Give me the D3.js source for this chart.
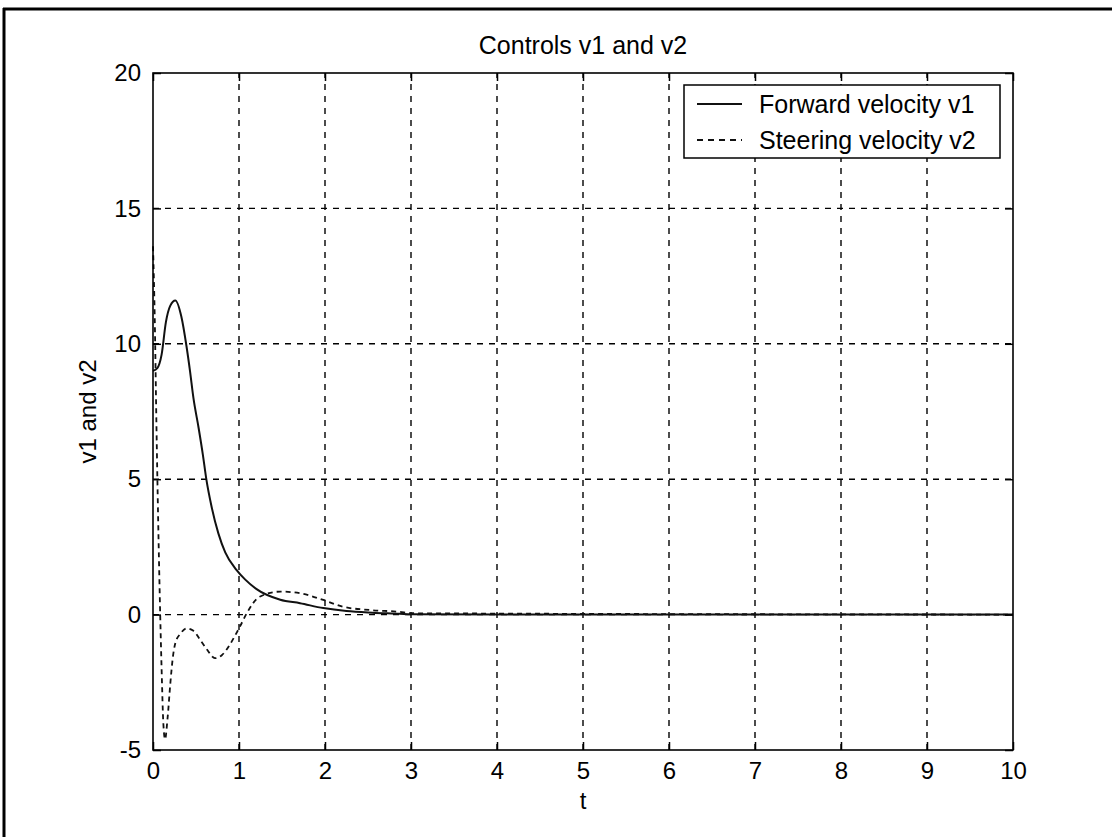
<!DOCTYPE html>
<html>
<head>
<meta charset="utf-8">
<script src="https://cdn.jsdelivr.net/npm/d3@7"></script>
<style>
  html, body { margin: 0; padding: 0; background: #fff; }
  svg { display: block; }
  text { font-family: "Liberation Sans", Arial, sans-serif; fill: #000; }
</style>
</head>
<body>
<svg id="Canvas" width="1112" height="837"></svg>
<script>
// chart data
var titleText = "Controls v1 and v2",
	xLabel = "t",
	yLabel = "v1 and v2",
	seriesNames = ["Forward velocity v1", "Steering velocity v2"],
	xTicks = [0, 1, 2, 3, 4, 5, 6, 7, 8, 9, 10],
	yTicks = [-5, 0, 5, 10, 15, 20];

// forward velocity v1
var tV1 = [0, 0.05, 0.1, 0.15, 0.2, 0.26, 0.33, 0.39, 0.43, 0.47, 0.53, 0.58, 0.62, 0.68, 0.76, 0.84, 0.97, 1.07, 1.2, 1.48, 1.71, 1.98, 2.25, 2.55, 2.87, 3.0, 10],
	v1  = [9.0, 9.1, 9.6, 10.8, 11.4, 11.6, 11.0, 9.9, 9.0, 8.0, 6.9, 5.9, 5.0, 4.0, 3.0, 2.3, 1.65, 1.3, 0.95, 0.55, 0.42, 0.24, 0.13, 0.07, 0.03, 0.01, 0];

// steering velocity v2
var tV2 = [0, 0.02, 0.04, 0.06, 0.08, 0.1, 0.12, 0.14, 0.17, 0.2, 0.23, 0.26, 0.32, 0.39, 0.47, 0.55, 0.63, 0.72, 0.8, 0.88, 0.95, 1.01, 1.09, 1.24, 1.48, 1.71, 1.98, 2.21, 2.52, 2.87, 3.0, 10],
	v2  = [13.6, 11, 7, 3.5, 0.5, -2, -4, -4.6, -3.8, -2.6, -1.6, -1.05, -0.7, -0.51, -0.6, -0.94, -1.3, -1.61, -1.5, -1.18, -0.8, -0.45, 0.05, 0.66, 0.85, 0.79, 0.54, 0.29, 0.17, 0.1, 0.05, 0];

var svg = d3.select("#Canvas"),
	plot = { left: 153, right: 1013, top: 73, bottom: 750 },
	tickLen = 8;

var x = d3.scaleLinear().domain([0, 10]).range([plot.left, plot.right]),
	y = d3.scaleLinear().domain([-5, 20]).range([plot.bottom, plot.top]);

/*
 * outer frame (only top and left edges show)
 */
svg.append("line").attr("x1", 3).attr("x2", 1112).attr("y1", 9).attr("y2", 9)
	.attr("stroke", "#000").attr("stroke-width", 3);
svg.append("line").attr("x1", 4).attr("x2", 4).attr("y1", 8).attr("y2", 837)
	.attr("stroke", "#000").attr("stroke-width", 3);

/*
 * grid
 */
var grid = svg.append("g").attr("stroke", "#000").attr("stroke-width", 1.4).attr("stroke-dasharray", "6,6");
grid.selectAll(".gx").data(xTicks.slice(1, -1)).enter().append("line")
	.attr("x1", function(d){ return x(d); }).attr("x2", function(d){ return x(d); })
	.attr("y1", plot.bottom).attr("y2", plot.top);
grid.selectAll(".gy").data(yTicks.slice(1, -1)).enter().append("line")
	.attr("y1", function(d){ return y(d); }).attr("y2", function(d){ return y(d); })
	.attr("x1", plot.left).attr("x2", plot.right);

/*
 * curves
 */
var line = d3.line()
	.x(function(d){ return x(d[0]); })
	.y(function(d){ return y(d[1]); })
	.curve(d3.curveMonotoneX);

svg.append("path").datum(d3.zip(tV1, v1))
	.attr("d", line).attr("fill", "none").attr("stroke", "#111").attr("stroke-width", 2);
svg.append("path").datum(d3.zip(tV2, v2))
	.attr("d", line).attr("fill", "none").attr("stroke", "#111").attr("stroke-width", 1.8)
	.attr("stroke-dasharray", "5,4");

/*
 * axes: box with inward ticks on all four sides
 */
function plain(d){ return String(d); }

var axBottom = d3.axisBottom(x).tickValues(xTicks).tickFormat(plain).tickSizeInner(-tickLen).tickSizeOuter(0).tickPadding(12),
	axTop = d3.axisTop(x).tickValues(xTicks).tickSizeInner(-tickLen).tickSizeOuter(0).tickFormat(""),
	axLeft = d3.axisLeft(y).tickValues(yTicks).tickFormat(plain).tickSizeInner(-tickLen).tickSizeOuter(0).tickPadding(12),
	axRight = d3.axisRight(y).tickValues(yTicks).tickSizeInner(-tickLen).tickSizeOuter(0).tickFormat("");

function styleAxis(g){
	g.select(".domain").remove();
	g.selectAll("line").attr("stroke", "#000").attr("stroke-width", 1.5);
	g.selectAll("text").attr("font-family", null).attr("font-size", 24).attr("fill", "#000");
}

svg.append("g").attr("transform", "translate(0," + plot.bottom + ")").call(axBottom).call(styleAxis);
svg.append("g").attr("transform", "translate(0," + plot.top + ")").call(axTop).call(styleAxis);
svg.append("g").attr("transform", "translate(" + plot.left + ",0)").call(axLeft).call(styleAxis);
svg.append("g").attr("transform", "translate(" + plot.right + ",0)").call(axRight).call(styleAxis);

svg.append("rect")
	.attr("x", plot.left).attr("y", plot.top)
	.attr("width", plot.right - plot.left).attr("height", plot.bottom - plot.top)
	.attr("fill", "none").attr("stroke", "#000").attr("stroke-width", 1.6);

/*
 * title and axis labels
 */
svg.append("text").attr("x", (plot.left + plot.right) / 2).attr("y", 54)
	.attr("text-anchor", "middle").attr("font-size", 25).text(titleText);
svg.append("text").attr("x", (plot.left + plot.right) / 2).attr("y", 809)
	.attr("text-anchor", "middle").attr("font-size", 24).text(xLabel);
svg.append("text")
	.attr("transform", "translate(96," + ((plot.top + plot.bottom) / 2) + ") rotate(-90)")
	.attr("text-anchor", "middle").attr("font-size", 24).text(yLabel);

/*
 * legend
 */
var legend = svg.append("g").attr("transform", "translate(684,85)");
legend.append("rect").attr("width", 316).attr("height", 73)
	.attr("fill", "#fff").attr("stroke", "#000").attr("stroke-width", 1.5);

var legendRows = legend.selectAll(".legend-row").data(seriesNames).enter()
	.append("g").classed("legend-row", true)
	.attr("transform", function(d, i){ return "translate(0," + (19 + i * 36) + ")"; });

legendRows.append("line")
	.attr("x1", 13).attr("x2", 58).attr("y1", 0).attr("y2", 0)
	.attr("stroke", "#111").attr("stroke-width", 2)
	.attr("stroke-dasharray", function(d, i){ return i ? "6,5" : null; });
legendRows.append("text")
	.attr("x", 75).attr("y", 9).attr("font-size", 25)
	.text(function(d){ return d; });
</script>
</body>
</html>
